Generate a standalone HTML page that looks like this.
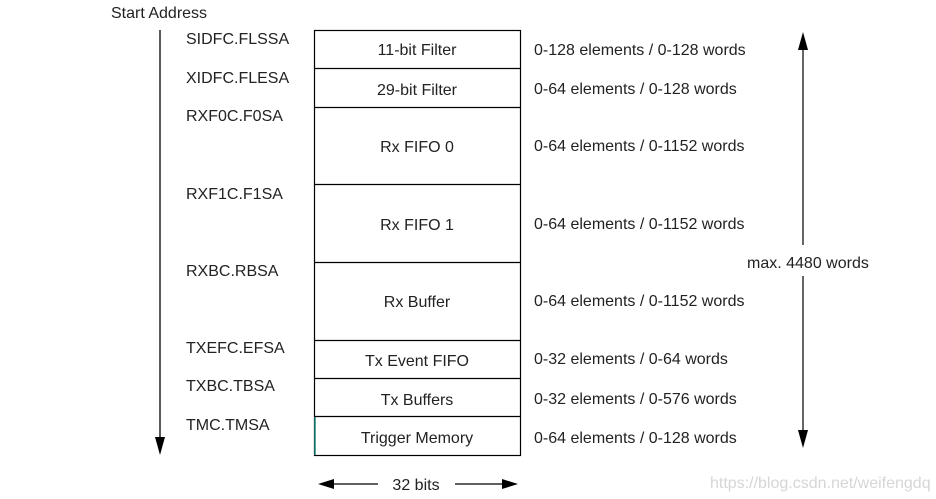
<!DOCTYPE html>
<html><head><meta charset="utf-8"><style>
html,body{margin:0;padding:0;background:#fff;}
svg{display:block;font-family:"Liberation Sans",Arial,sans-serif;}
text{fill:#222;font-size:16px;}
</style></head><body>
<svg width="936" height="499" viewBox="0 0 936 499">
<text x="111" y="18">Start Address</text>
<line x1="160" y1="30" x2="160" y2="440" stroke="#000" stroke-width="1.3"/>
<polygon points="155,437 165,437 160,455" fill="#000"/>
<g>
<text x="186" y="44">SIDFC.FLSSA</text>
<text x="186" y="83">XIDFC.FLESA</text>
<text x="186" y="121">RXF0C.F0SA</text>
<text x="186" y="199">RXF1C.F1SA</text>
<text x="186" y="276">RXBC.RBSA</text>
<text x="186" y="353">TXEFC.EFSA</text>
<text x="186" y="391">TXBC.TBSA</text>
<text x="186" y="430">TMC.TMSA</text>
</g>
<g stroke="#000" stroke-width="1.2" fill="#fff">
<rect x="314.5" y="30.5" width="206" height="425"/>
<line x1="314" y1="68.5" x2="521" y2="68.5"/>
<line x1="314" y1="107.5" x2="521" y2="107.5"/>
<line x1="314" y1="184.5" x2="521" y2="184.5"/>
<line x1="314" y1="262.5" x2="521" y2="262.5"/>
<line x1="314" y1="340.5" x2="521" y2="340.5"/>
<line x1="314" y1="378.5" x2="521" y2="378.5"/>
<line x1="314" y1="416.5" x2="521" y2="416.5"/>
</g>
<line x1="315" y1="417" x2="315" y2="455" stroke="#1a8a80" stroke-width="1.5"/>
<g text-anchor="middle">
<text x="417" y="55">11-bit Filter</text>
<text x="417" y="95">29-bit Filter</text>
<text x="417" y="152">Rx FIFO 0</text>
<text x="417" y="230">Rx FIFO 1</text>
<text x="417" y="307">Rx Buffer</text>
<text x="417" y="366">Tx Event FIFO</text>
<text x="417" y="405">Tx Buffers</text>
<text x="417" y="443">Trigger Memory</text>
</g>
<g>
<text x="534" y="55">0-128 elements / 0-128 words</text>
<text x="534" y="94">0-64 elements / 0-128 words</text>
<text x="534" y="151">0-64 elements / 0-1152 words</text>
<text x="534" y="229">0-64 elements / 0-1152 words</text>
<text x="534" y="306">0-64 elements / 0-1152 words</text>
<text x="534" y="364">0-32 elements / 0-64 words</text>
<text x="534" y="404">0-32 elements / 0-576 words</text>
<text x="534" y="443">0-64 elements / 0-128 words</text>
</g>
<g>
<line x1="803" y1="44" x2="803" y2="245" stroke="#000" stroke-width="1.2"/>
<line x1="803" y1="276" x2="803" y2="436" stroke="#000" stroke-width="1.2"/>
<polygon points="798,50 808,50 803,32" fill="#000"/>
<polygon points="798,430 808,430 803,448" fill="#000"/>
<text x="747" y="268">max. 4480 words</text>
</g>
<g>
<line x1="330" y1="484" x2="378" y2="484" stroke="#000" stroke-width="1.2"/>
<line x1="455" y1="484" x2="505" y2="484" stroke="#000" stroke-width="1.2"/>
<polygon points="318,484 334,479 334,489" fill="#000"/>
<polygon points="518,484 502,479 502,489" fill="#000"/>
<text x="416" y="490" text-anchor="middle">32 bits</text>
</g>
<text x="710" y="488" style="fill:#d6d6d6;font-size:16px">https://blog.csdn.net/weifengdq</text>
</svg>
</body></html>
